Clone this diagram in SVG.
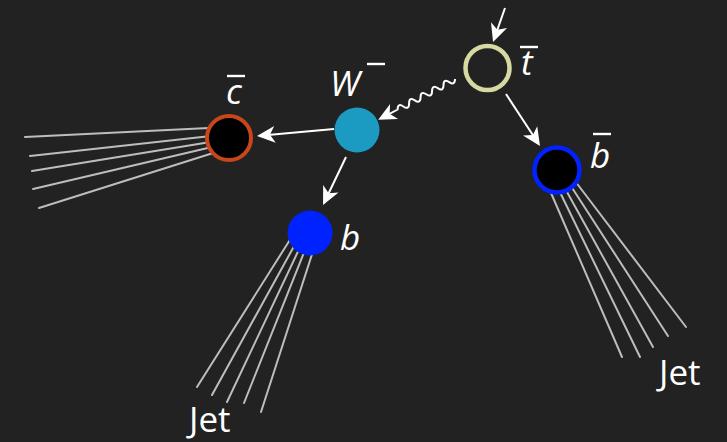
<svg xmlns="http://www.w3.org/2000/svg" width="727" height="442" viewBox="0 0 727 442">
  <style>
    .jet { stroke: #bdbdbd; stroke-width: 2; stroke-linecap: round; fill: none; }
    .arrow { stroke: #ffffff; stroke-width: 2; fill: none; marker-end: url(#head); }
    .lbl { font-family: "Open Sans", "DejaVu Sans", sans-serif; font-size: 35px; fill: #ffffff; }
    .it { font-style: italic; }
    .bar { stroke: #ffffff; stroke-width: 2.4; }
  </style>
  <defs>
    <marker id="head" markerUnits="userSpaceOnUse" viewBox="-20 -10 22 20" refX="-8" refY="0" markerWidth="22" markerHeight="20" orient="auto">
      <path d="M0,0 L-18,-8.5 L-13,0 L-18,8.5 Z" fill="#ffffff"/>
    </marker>
  </defs>
  <rect width="727" height="442" fill="#222222"/>

  <!-- jet fans (drawn beneath the particle nodes) -->
  <g id="jets">
    <line class="jet" x1="25" y1="137" x2="229" y2="127"/>
    <line class="jet" x1="30" y1="156" x2="229" y2="134"/>
    <line class="jet" x1="32" y1="171" x2="229" y2="139"/>
    <line class="jet" x1="33" y1="189" x2="229" y2="143"/>
    <line class="jet" x1="39" y1="208" x2="229" y2="148"/>

    <line class="jet" x1="197" y1="387" x2="293" y2="235"/>
    <line class="jet" x1="212" y1="395" x2="298" y2="239"/>
    <line class="jet" x1="227" y1="402" x2="302" y2="243"/>
    <line class="jet" x1="244" y1="403" x2="307" y2="245"/>
    <line class="jet" x1="261" y1="412" x2="315" y2="245"/>

    <line class="jet" x1="622" y1="357" x2="548" y2="186"/>
    <line class="jet" x1="640" y1="357" x2="556" y2="184"/>
    <line class="jet" x1="653" y1="347" x2="562" y2="183"/>
    <line class="jet" x1="668" y1="336" x2="567" y2="180"/>
    <line class="jet" x1="686" y1="327" x2="572" y2="177"/>
  </g>

  <!-- connectors -->
  <g id="connectors">
    <path class="arrow" d="M505,8 L495.7,34.5"/>
    <path class="arrow" d="M334,129 L265,135.3"/>
    <path class="arrow" d="M346,157 L326.5,197.8"/>
    <path class="arrow" d="M506,94 L535.6,139.3"/>
    <!-- W boson propagator (wavy) -->
    <path class="arrow" transform="translate(455,79) rotate(152)"
          d="M0,0 q3.25,-6 6.5,0 t6.5,0 t6.5,0 t6.5,0 t6.5,0 t6.5,0 t6.5,0 t6.5,0 t6.5,0 t6.5,0 L79,0"/>
  </g>

  <g id="tbar">
    <circle cx="487.5" cy="68" r="22" fill="none" stroke="#d7d9a2" stroke-width="4.5"/>
    <line class="bar" x1="520" y1="47" x2="538" y2="47"/>
    <text class="lbl it" x="521" y="75">t</text>
  </g>

  <g id="Wminus">
    <circle cx="357" cy="130" r="22.5" fill="#1b9bc1"/>
    <text class="lbl it" x="330" y="95.5">W</text>
    <line class="bar" x1="367" y1="64" x2="385" y2="64"/>
  </g>

  <g id="cbar">
    <circle cx="229" cy="138" r="22" fill="#000000" stroke="#c9461b" stroke-width="4"/>
    <line class="bar" x1="227" y1="76" x2="245" y2="76"/>
    <text class="lbl it" x="226" y="104">c</text>
  </g>

  <g id="b">
    <circle cx="310" cy="233" r="22.5" fill="#0022ff"/>
    <text class="lbl it" x="340" y="250">b</text>
    <text class="lbl" x="189" y="432">Jet</text>
  </g>

  <g id="bbar">
    <circle cx="557" cy="170" r="22.5" fill="#000000" stroke="#0022ff" stroke-width="4.5"/>
    <line class="bar" x1="593" y1="134" x2="611" y2="134"/>
    <text class="lbl it" x="590" y="168">b</text>
    <text class="lbl" x="659" y="385">Jet</text>
  </g>
</svg>
